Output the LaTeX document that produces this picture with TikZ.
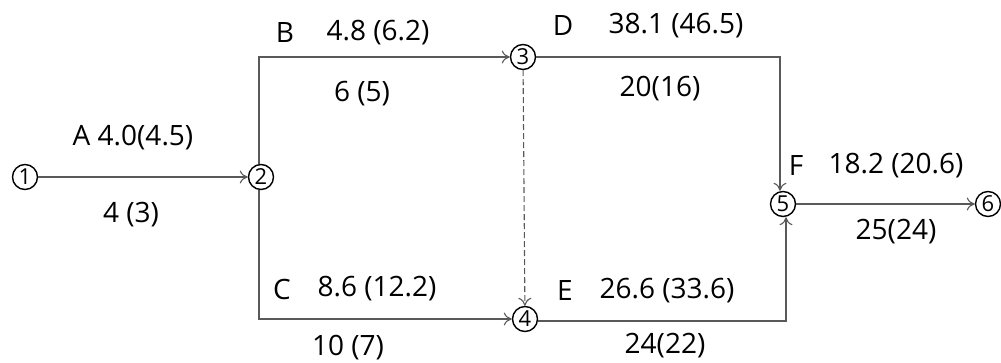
\documentclass[tikz,border=0pt]{standalone}
\usepackage{fontspec}
\setmainfont{Open Sans}
\usetikzlibrary{arrows.meta}
\begin{document}
\begin{tikzpicture}[x=1pt,y=-1pt,
  ev/.style={circle,draw=black,line width=1.4pt,inner sep=0pt,minimum size=25pt,font=\fontsize{22}{22}\selectfont},
  act/.style={draw=black!65,line width=1.1pt,-{To[length=8pt,width=13pt]}},
  lbl/.style={font=\fontsize{28}{28}\selectfont,inner sep=0pt,text=black}]
\useasboundingbox (0,0) rectangle (1001,362);
\node[ev] (n1) at (25,177) {1};
\node[ev] (n2) at (261,177) {2};
\node[ev] (n3) at (523,57) {3};
\node[ev] (n4) at (525,319) {4};
\node[ev] (n5) at (783,204) {5};
\node[ev] (n6) at (988,204) {6};
\path (n2.north) ++(-2,0) coordinate (b0);
\path (n2.south) ++(-2,0) coordinate (c0);
\draw[act] (n1) -- (n2);
\draw[act] (b0) |- (n3);
\draw[act] (c0) |- (n4);
\draw[act,dash pattern=on 6pt off 3pt] (n3) -- (n4);
\coordinate (d1) at (780,57);
\draw[act] (n3) -- (d1) -- (n5.north -| d1);
\coordinate (e1) at (786,321);
\draw[act] (n4.east |- e1) -- (e1) -- (n5.south -| e1);
\draw[act] (n5) -- (n6);
\node[lbl] (la) at (133,138) {A 4.0(4.5)};
\node[lbl] (la2) at (131,215) {4 (3)};
\node[lbl] (lb) at (285,33) {B};
\node[lbl] (lb1) at (378,33) {4.8 (6.2)};
\node[lbl] (lb2) at (362,94) {6 (5)};
\node[lbl] (ld) at (563,26) {D};
\node[lbl] (ld1) at (676,26) {38.1 (46.5)};
\node[lbl] (ld2) at (660,89) {20(16)};
\node[lbl] (lf) at (796,166) {F};
\node[lbl] (lf1) at (896,166) {18.2 (20.6)};
\node[lbl] (lf2) at (896,232) {25(24)};
\node[lbl] (lc) at (282,289) {C};
\node[lbl] (lc1) at (377,289) {8.6 (12.2)};
\node[lbl] (lc2) at (348,348) {10 (7)};
\node[lbl] (le) at (565,291) {E};
\node[lbl] (le1) at (667,291) {26.6 (33.6)};
\node[lbl] (le2) at (665,346) {24(22)};
\end{tikzpicture}
\end{document}
